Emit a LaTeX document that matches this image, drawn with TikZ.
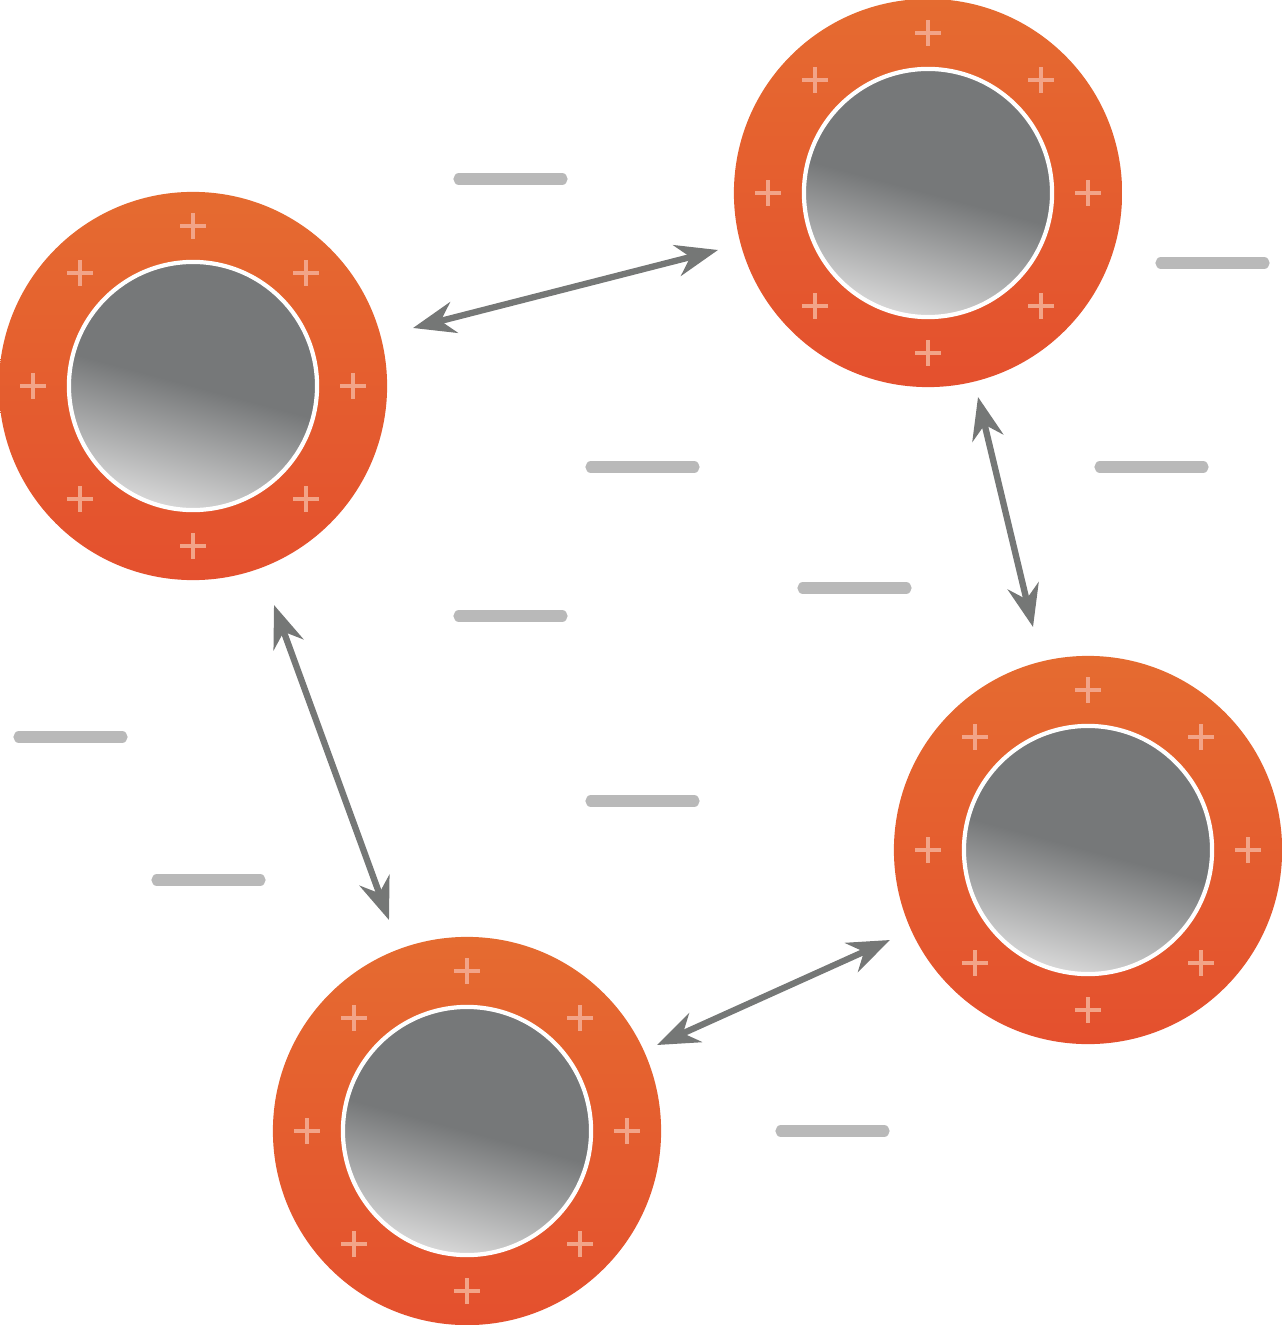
\documentclass[tikz,border=0pt]{standalone}
\usetikzlibrary{arrows.meta}
\begin{document}
\begin{tikzpicture}[x=0.01cm, y=-0.01cm,
    shell/.style={circle, minimum size=3.88cm, inner sep=0pt, top color=orange1, bottom color=orange2},
    core/.style={circle, minimum size=2.48cm, inner sep=0pt, draw=white, line width=1.2pt, top color=core1, bottom color=core2, middle color=core1, shading angle=-15},
    charge/.style={pluscol, line width=1.3pt},
    minus/.style={gray!55, line width=3.2pt, line cap=round},
    link/.style={<->, >={Stealth[length=12pt, width=9pt]}, draw=arrowcol, line width=1.8pt}]
    \definecolor{orange1}{HTML}{E56B30}
    \definecolor{orange2}{HTML}{E4502E}
    \definecolor{core1}{HTML}{767879}
    \definecolor{core2}{HTML}{D8D8D8}
    \definecolor{pluscol}{HTML}{F2A488}
    \definecolor{arrowcol}{HTML}{757776}
    \useasboundingbox (0,0) rectangle (1282,1325);

    \foreach \n/\x/\y in {p1/193/386, p2/928/193, p3/1088/850, p4/467/1131} {
        \node[shell] (\n) at (\x,\y) {};
        \node[core] (\n c) at (\x,\y) {};
        \foreach \a in {0,45,...,315}
            \draw[charge] (\n) ++(\a:160) +(-13,0) -- +(13,0) +(0,-13) -- +(0,13);
    }

    % negative charges
    \foreach \x/\y in {459/179, 1161/263, 591/467, 1100/467, 803/588, 459/616, 19/737, 591/801, 157/880, 781/1131}
        \draw[minus] (\x,\y) -- ++(103,0);

    \coordinate (a1) at (413,328); \coordinate (b1) at (718,250);
    \coordinate (a2) at (978,397); \coordinate (b2) at (1033,627);
    \coordinate (a3) at (274,605); \coordinate (b3) at (389,920);
    \coordinate (a4) at (657,1045); \coordinate (b4) at (890,940);
    \foreach \i in {1,...,4}
        \draw[link] (a\i) -- (b\i);
\end{tikzpicture}
\end{document}
